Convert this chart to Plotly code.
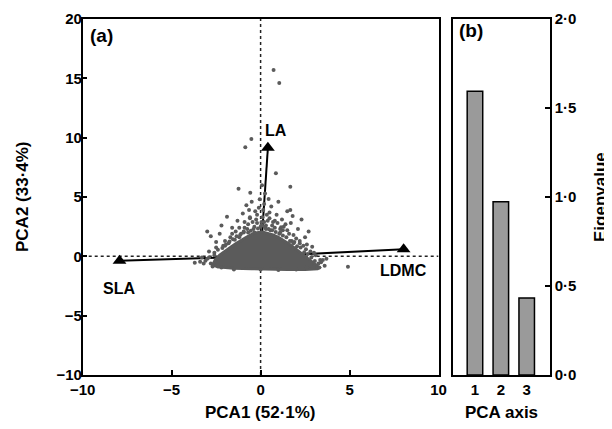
import plotly.graph_objects as go

# ---- data ----
# dense core of the score cloud (outline)
core_x = [-2.7, -2.55, -2.3, -2.0, -1.7, -1.4, -1.1, -0.8, -0.5, -0.2, 0.1, 0.4, 0.7,
          1.0, 1.3, 1.6, 1.9, 2.2, 2.5, 2.8, 3.1, 3.3, 3.2, 2.5, 1.5, 0.5, -0.5, -1.5, -2.3, -2.7]
core_y = [-0.75, -0.3, 0.1, 0.45, 0.75, 1.05, 1.35, 1.6, 1.85, 2.0, 2.05, 1.95, 1.8,
          1.6, 1.35, 1.05, 0.7, 0.35, 0.0, -0.35, -0.7, -0.95, -1.05, -1.1, -1.1, -1.1, -1.05, -1.0, -0.9, -0.75]

# individual scores around / outside the dense core
pts_x = [0.73, 1.05, -0.52, -0.86, 0.86, 1.67, -1.24, -0.58, 0.08, 0.45, 1.67, -1.89,
         -1.6, -2.2, -1.3, -1.0, -0.8, -0.6, -0.5, -0.3, -0.2, -0.1, 0.1, 0.2, 0.3, 0.5,
         0.6, 0.7, 0.9, 1.0, 1.2, 1.3, 1.5, 1.7, 1.8, 2.1, 2.3, 2.5, 2.7, -2.5, -2.8,
         -2.3, -1.7, -0.9, -0.7, -0.4, 0.0, 0.4, 0.8, 1.1, 1.6, 2.0, 2.4, 2.9, 3.1, 2.8,
         3.4, 3.6, -3.0, -2.9, -3.4, -3.1, -3.7, -3.0, -2.8, -2.6, -2.1, -1.4, -0.2, 0.15,
         -0.35, 0.55, 1.4, -1.1, 0.95, -0.65, 0.35, 1.9, -1.8, -0.05, 0.25, 3.0, 3.3, 2.6,
         -2.4, -2.2, -1.5, 0.0, 1.0, 2.0, 3.7, 4.91, -0.45, 0.65, 1.25, -1.45, 2.2, -0.95,
         0.05, 1.75, -2.0, 2.55, -1.2, 0.3, -0.7, 1.1, 3.5, -3.3,
         -2.6, -2.4, -2.15, -1.95, -1.75, -1.55, -1.35, -1.15, -0.95, -0.75, -0.55, -0.35,
         -0.15, 0.05, 0.25, 0.45, 0.65, 0.85, 1.05, 1.25, 1.45, 1.65, 1.85, 2.05, 2.25,
         2.45, 2.65, 2.85, 3.05, 3.25,
         -2.9, -2.5, -2.0, -1.6, -1.2, -0.9, -0.6, -0.25, 0.2, 0.5, 0.8, 1.15, 1.5, 1.85,
         2.2, 2.6, 3.0, 3.35, -3.2, -2.7]
pts_y = [15.7, 14.6, 9.88, 9.2, 7.0, 5.87, 5.7, 5.36, 6.0, 4.83, 3.9, 3.34,
         2.4, 2.6, 3.0, 3.6, 4.3, 3.2, 4.6, 3.8, 2.8, 4.1, 3.3, 4.4, 2.6, 3.7,
         4.2, 2.9, 3.5, 4.6, 3.1, 2.5, 3.8, 2.8, 3.4, 2.3, 3.1, 1.6, 2.1, 1.2, 1.7,
         1.9, 1.6, 2.4, 2.7, 2.3, 2.5, 3.0, 2.4, 2.0, 1.9, 1.5, 0.9, 0.8, 0.1, 0.4,
         -0.5, -0.8, 2.1, 0.4, -0.45, -0.37, -0.54, -0.2, -0.6, 0.3, 0.9, 2.1, 3.5, 3.9,
         2.0, 2.2, 2.7, 1.9, 2.8, 3.9, 3.5, 1.2, 1.1, 4.8, 5.3, -0.9, -0.95, -0.95,
         -0.85, -0.95, -1.1, -1.1, -1.15, -1.1, -0.2, -0.87, 2.9, 2.6, 2.2, 1.4, 1.1, 2.1,
         2.9, 1.3, 0.9, 0.6, 1.6, 2.3, 2.0, 2.3, -0.3, -0.1,
         0.1, 0.55, 0.7, 1.0, 1.25, 1.45, 1.7, 1.8, 2.0, 2.3, 2.15, 2.5,
         2.35, 2.6, 2.45, 2.3, 2.2, 2.05, 1.9, 1.75, 1.6, 1.3, 1.1, 0.85, 0.75,
         0.35, 0.2, -0.1, -0.4, -0.6,
         -0.1, 0.75, 1.3, 1.9, 2.4, 2.9, 3.3, 3.1, 2.9, 3.2, 3.0, 2.45, 2.2, 1.8,
         1.3, 1.0, 0.3, -0.3, -0.6, -0.85]

# trait loadings (arrow tips)
trait_names = ["SLA", "LA", "LDMC"]
trait_x = [-7.93, 0.41, 8.04]
trait_y = [-0.37, 9.15, 0.59]

# eigenvalues
pca_axes = [1, 2, 3]
eigenvalues = [1.594, 0.974, 0.432]

x_ticks = [-10, -5, 0, 5, 10]
x_tick_text = ["\u221210", "\u22125", "0", "5", "10"]
y_ticks = [-10, -5, 0, 5, 10, 15, 20]
y_tick_text = ["\u221210", "\u22125", "0", "5", "10", "15", "20"]
e_ticks = [0, 0.5, 1.0, 1.5, 2.0]
e_tick_text = ["0\u00b70", "0\u00b75", "1\u00b70", "1\u00b75", "2\u00b70"]

# ---- figure ----
OFF = 8                      # page body margin
W, H = 602, 429 - 2 * OFF    # keep the page from overflowing (no scrollbars)
T = 19 - OFF
B = H - (375 - OFF)
FONT = "Liberation Sans, Arial, sans-serif"
PTS = "#5b5b5b"


def px(p):
    return (p - OFF) / W


def py(p):
    return (H - B - (p - OFF)) / (H - T - B)


fig = go.Figure()

# loading vectors from origin (drawn under the cloud)
for tx, ty in zip(trait_x, trait_y):
    fig.add_trace(go.Scatter(x=[0, tx], y=[0, ty], mode="lines",
                             line=dict(color="black", width=2),
                             hoverinfo="skip", showlegend=False))

fig.add_trace(go.Scatter(x=core_x, y=core_y, mode="lines", fill="toself",
                         fillcolor=PTS, line=dict(color=PTS, width=3),
                         hoverinfo="skip", showlegend=False))
fig.add_trace(go.Scatter(x=pts_x, y=pts_y, mode="markers",
                         marker=dict(color=PTS, size=4, line=dict(width=0)),
                         showlegend=False))
fig.add_trace(go.Scatter(x=trait_x, y=trait_y, mode="markers",
                         marker=dict(symbol="triangle-up", color="black", size=12,
                                     line=dict(width=0)),
                         showlegend=False))

fig.add_trace(go.Bar(x=pca_axes, y=eigenvalues, width=0.6,
                     marker=dict(color="#9a9a9a", line=dict(color="black", width=1.5)),
                     xaxis="x2", yaxis="y2", showlegend=False))

# dotted zero lines
fig.add_shape(type="line", xref="x", yref="y", x0=-10, x1=10, y0=0, y1=0,
              line=dict(color="#222", width=1.5, dash="dot"), layer="below")
fig.add_shape(type="line", xref="x", yref="y", x0=0, x1=0, y0=-10, y1=20,
              line=dict(color="#222", width=1.5, dash="dot"), layer="below")

ax_common = dict(showline=True, linecolor="black", linewidth=1.5, mirror=True,
                 ticks="inside", ticklen=5, tickwidth=1.5, tickcolor="black",
                 showgrid=False, zeroline=False, automargin=False,
                 tickfont=dict(family=FONT, size=15, color="black", weight="bold"))

fig.update_layout(
    template="none",
    width=W, height=H,
    margin=dict(l=0, r=0, t=T, b=B, pad=0),
    paper_bgcolor="white", plot_bgcolor="white",
    xaxis=dict(domain=[px(82.7), px(438.5)], range=[-10, 10],
               tickvals=x_ticks, ticktext=x_tick_text, anchor="y", **ax_common),
    yaxis=dict(domain=[0, 1], range=[-10, 20], tickvals=y_ticks,
               ticktext=y_tick_text, anchor="x", ticklabelstandoff=-4, **ax_common),
    xaxis2=dict(domain=[px(452.7), px(550)], range=[0.14, 3.9],
                tickvals=pca_axes, ticktext=[str(a) for a in pca_axes],
                anchor="y2", **{**ax_common, "ticks": ""}),
    yaxis2=dict(domain=[0, 1], range=[0, 2], tickvals=e_ticks,
                ticktext=e_tick_text, anchor="x2", side="right", **ax_common),
    font=dict(family=FONT, color="black"),
    showlegend=False,
)

bold = dict(family=FONT, color="black", weight="bold")
annos = [
    dict(text="PCA1 (52\u00b71%)", x=px(260.6), y=py(412), size=17, angle=0),
    dict(text="PCA axis", x=px(501), y=py(412), size=17, angle=0),
    dict(text="PCA2 (33\u00b74%)", x=px(22), y=py(197), size=17, angle=-90),
    dict(text="Eigenvalue", x=px(600), y=py(197), size=17, angle=-90),
]
for a in annos:
    fig.add_annotation(text=a["text"], x=a["x"], y=a["y"], xref="paper", yref="paper",
                       xanchor="center", yanchor="middle", showarrow=False,
                       textangle=a["angle"], font=dict(size=a["size"], **bold))

fig.add_annotation(text="(a)", x=px(88), y=py(36), xref="paper", yref="paper",
                   xanchor="left", yanchor="middle", showarrow=False,
                   font=dict(size=19, **bold))
fig.add_annotation(text="(b)", x=px(457), y=py(31), xref="paper", yref="paper",
                   xanchor="left", yanchor="middle", showarrow=False,
                   font=dict(size=19, **bold))

label_pos = {"SLA": (-7.94, -2.67), "LA": (0.88, 10.64), "LDMC": (8.04, -1.22)}
for name in trait_names:
    lx, ly = label_pos[name]
    fig.add_annotation(text=name, x=lx, y=ly, xref="x", yref="y", showarrow=False,
                       xanchor="center", yanchor="middle", font=dict(size=16, **bold))

fig.write_html("out.html")
